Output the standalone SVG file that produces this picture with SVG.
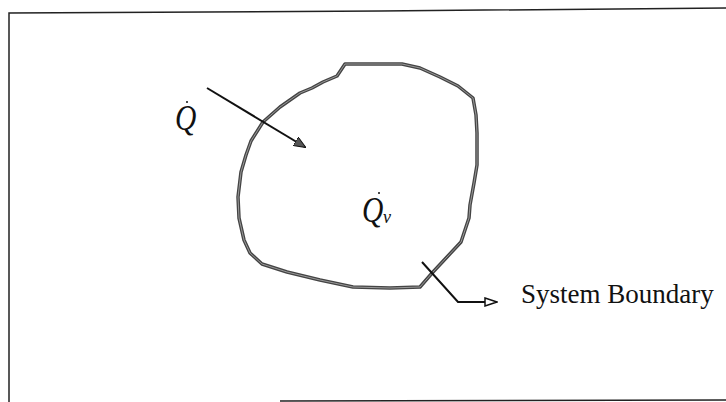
<svg xmlns="http://www.w3.org/2000/svg" width="726" height="402" viewBox="0 0 726 402">
<style>
.frame{fill:none;stroke:#222;stroke-width:1.5}
.blob{fill:none;stroke:#444;stroke-width:3.5;stroke-linejoin:round}
.blobin{fill:none;stroke:#999;stroke-width:1;stroke-linejoin:round}
.conn{fill:none;stroke:#111;stroke-width:2}
.lbl{font-family:"Liberation Serif",serif;fill:#111}
</style>
<defs>
<marker id="ah1" viewBox="0 0 12 10" refX="11" refY="5" markerWidth="12" markerHeight="10" markerUnits="userSpaceOnUse" orient="auto">
<path d="M0,0 L12,5 L0,10 Z" fill="#555" stroke="#111" stroke-width="1"/>
</marker>
<marker id="ah2" viewBox="0 0 14 10" refX="13" refY="5" markerWidth="14" markerHeight="10" markerUnits="userSpaceOnUse" orient="auto">
<path d="M1,1 L13,5 L1,9 Z" fill="#fff" stroke="#111" stroke-width="1.5"/>
</marker>
</defs>
<rect width="726" height="402" fill="#fff"/>
<g id="frame">
<path class="frame" d="M9,402 L9,13 L380,11 L726,8"/>
<path class="frame" d="M280,401 L726,400"/>
</g>
<g id="system-boundary">
<path class="blob" d="M345,64 L402,64 L420,68 L440,77 L458,86 L473,98 L476,115 L477,133 L477,165 L474,183 L470,205 L469,218 L461,242 L447,257 L433,272 L420,287 L390,288 L353,287 L320,280 L287,272 L262,264 L250,253 L244,240 L239,218 L238,197 L241,172 L246,155 L251,141 L263,122 L280,107 L300,93 L312,88 L323,82 L337,76 Z"/>
<path class="blobin" d="M345,64 L402,64 L420,68 L440,77 L458,86 L473,98 L476,115 L477,133 L477,165 L474,183 L470,205 L469,218 L461,242 L447,257 L433,272 L420,287 L390,288 L353,287 L320,280 L287,272 L262,264 L250,253 L244,240 L239,218 L238,197 L241,172 L246,155 L251,141 L263,122 L280,107 L300,93 L312,88 L323,82 L337,76 Z"/>
</g>
<g id="connectors">
<line class="conn" x1="207" y1="88" x2="305" y2="147" marker-end="url(#ah1)"/>
<polyline class="conn" points="422,262 458,302 497,302" marker-end="url(#ah2)"/>
</g>
<g id="label-q">
<text class="lbl" font-size="36" font-style="italic" transform="translate(175,130) scale(0.82,1)">Q</text>
<circle cx="187" cy="102" r="1" fill="#111"/>
</g>
<g id="label-qv">
<text class="lbl" font-size="36" font-style="italic" transform="translate(362,222) scale(0.82,1)">Q</text>
<text class="lbl" x="383" y="223" font-size="18" font-style="italic">v</text>
<circle cx="379" cy="193" r="1" fill="#111"/>
</g>
<g id="label-boundary">
<text class="lbl" x="521" y="303" font-size="27">System Boundary</text>
</g>
</svg>
